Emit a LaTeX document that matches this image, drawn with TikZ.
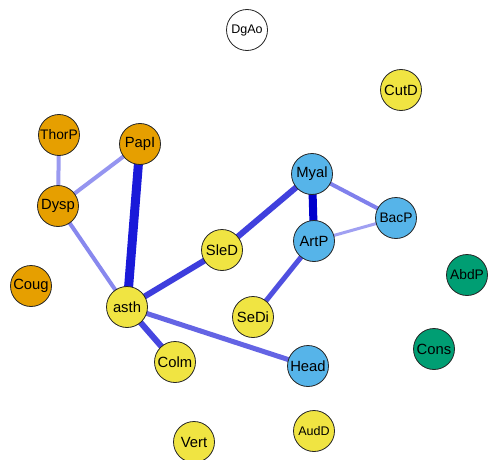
\documentclass[tikz,border=0pt]{standalone}
\usepackage{fontspec}
\setmainfont{Liberation Sans}
\usetikzlibrary{backgrounds}
\definecolor{cor}{HTML}{E69F00}
\definecolor{cye}{HTML}{F0E442}
\definecolor{cbl}{HTML}{56B4E9}
\definecolor{cgr}{HTML}{009E73}
\begin{document}
\begin{tikzpicture}[x=1pt,y=-1pt,
  vtx/.style={circle,draw=black!85,line width=0.8pt,minimum size=41pt,inner sep=0pt,font=\fontsize{14.8}{15}\selectfont},
  sm/.style={font=\fontsize{12.5}{13}\selectfont},
  md/.style={font=\fontsize{13.8}{14}\selectfont},
  ed/.style={line width=#1}]
\useasboundingbox (0,0) rectangle (490,460);
\node[vtx,fill=white,sm] (DgAo) at (247,30) {DgAo};
\node[vtx,fill=cye] (CutD) at (401,90) {CutD};
\node[vtx,fill=cor,md] (ThorP) at (59,135) {ThorP};
\node[vtx,fill=cor] (PapI) at (140,144) {PapI};
\node[vtx,fill=cor] (Dysp) at (58,206) {Dysp};
\node[vtx,fill=cbl] (Myal) at (312,174) {Myal};
\node[vtx,fill=cbl,md] (BacP) at (396,218) {BacP};
\node[vtx,fill=cbl] (ArtP) at (314,241) {ArtP};
\node[vtx,fill=cye] (SleD) at (222,250) {SleD};
\node[vtx,fill=cgr,md] (AbdP) at (467,275) {AbdP};
\node[vtx,fill=cor] (Coug) at (31,286) {Coug};
\node[vtx,fill=cye] (asth) at (127,307) {asth};
\node[vtx,fill=cye] (SeDi) at (253,317) {SeDi};
\node[vtx,fill=cgr] (Cons) at (434,349) {Cons};
\node[vtx,fill=cye] (Colm) at (175,362) {Colm};
\node[vtx,fill=cbl] (Head) at (308,366) {Head};
\node[vtx,fill=cye] (Vert) at (194,442) {Vert};
\node[vtx,fill=cye,sm] (AudD) at (314,431) {AudD};
\begin{pgfonlayer}{background}
\draw[ed=4pt,color={rgb,255:red,154;green,154;blue,240}] (ThorP.center) -- (Dysp.center);
\draw[ed=4pt,color={rgb,255:red,149;green,149;blue,240}] (Dysp.center) -- (PapI.center);
\draw[ed=4pt,color={rgb,255:red,136;green,136;blue,238}] (Dysp.center) -- (asth.center);
\draw[ed=9pt,color={rgb,255:red,26;green,26;blue,217}] (PapI.center) -- (asth.center);
\draw[ed=6pt,color={rgb,255:red,61;green,61;blue,221}] (asth.center) -- (SleD.center);
\draw[ed=6pt,color={rgb,255:red,64;green,64;blue,221}] (SleD.center) -- (Myal.center);
\draw[ed=8pt,color={rgb,255:red,0;green,0;blue,204}] (Myal.center) -- (ArtP.center);
\draw[ed=4pt,color={rgb,255:red,128;green,128;blue,236}] (Myal.center) -- (BacP.center);
\draw[ed=3pt,color={rgb,255:red,160;green,160;blue,242}] (ArtP.center) -- (BacP.center);
\draw[ed=5pt,color={rgb,255:red,80;green,80;blue,224}] (ArtP.center) -- (SeDi.center);
\draw[ed=6pt,color={rgb,255:red,70;green,70;blue,224}] (asth.center) -- (Colm.center);
\draw[ed=5pt,color={rgb,255:red,100;green,100;blue,228}] (asth.center) -- (Head.center);
\end{pgfonlayer}
\end{tikzpicture}
\end{document}
